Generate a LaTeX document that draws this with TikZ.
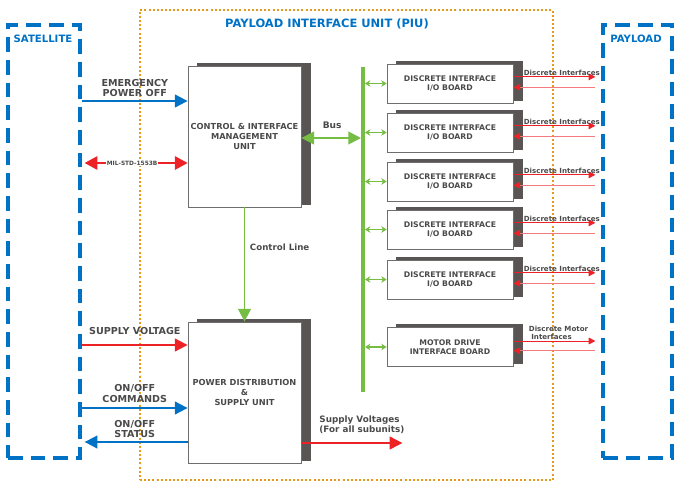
\documentclass[tikz,border=0pt]{standalone}
\usepackage{fontspec}
\setmainfont{DejaVu Sans}
\usetikzlibrary{arrows.meta}
\usetikzlibrary{shadows}

\definecolor{satblue}{HTML}{0072C6}
\definecolor{sigred}{HTML}{EC2227}
\definecolor{busgreen}{HTML}{76BD43}
\definecolor{piuorange}{HTML}{E39A1E}
\definecolor{shadegray}{HTML}{5A5555}
\definecolor{inkgray}{HTML}{4A4A4A}

\begin{document}
\begin{tikzpicture}[x=0.75pt, y=-0.75pt,
	every node/.style={text=inkgray},
	frame/.style={draw=satblue, line width=3pt, dash pattern=on 11pt off 6pt, inner sep=0pt, minimum height=324.75pt},
	head/.style={text=satblue, font=\fontsize{7.6}{9}\selectfont\bfseries, inner sep=0pt},
	unit/.style={draw=inkgray!80, line width=0.6pt, fill=white, inner sep=0pt, align=center,
		font=\fontsize{6.2}{7.2}\selectfont\bfseries,
		copy shadow={shadow xshift=6.75pt, shadow yshift=2.25pt, fill=shadegray, draw=shadegray}},
	mainunit/.style={unit, minimum width=84.75pt, minimum height=105.75pt},
	board/.style={unit, minimum width=94.5pt, minimum height=29.25pt, font=\fontsize{5.8}{7}\selectfont\bfseries},
	lbl/.style={font=\fontsize{7.2}{7.8}\selectfont\bfseries, align=center, inner sep=0.5pt},
	small/.style={font=\fontsize{5.3}{6}\selectfont\bfseries, inner sep=0.3pt},
	pwr/.style={draw=satblue, line width=1.4pt, -{Triangle[length=9.5pt,width=9.5pt]}},
	pwrback/.style={draw=satblue, line width=1.4pt, {Triangle[length=9.5pt,width=9.5pt]}-},
	supply/.style={draw=sigred, line width=1.4pt, -{Triangle[length=9.5pt,width=9.5pt]}},
	milbus/.style={draw=sigred, line width=1.4pt, {Triangle[length=9.5pt,width=10pt]}-{Triangle[length=9.5pt,width=10pt]}},
	ctrl/.style={draw=busgreen, line width=1.2pt, -{Triangle[length=9.5pt,width=9.5pt]}},
	buslink/.style={draw=busgreen, line width=1.4pt, {Triangle[length=9.5pt,width=9.5pt]}-{Triangle[length=9.5pt,width=9.5pt]}},
	boardlink/.style={draw=busgreen, line width=0.8pt, {Stealth[length=4pt,width=5pt]}-{Stealth[length=4pt,width=5pt]}},
	sigout/.style={draw=sigred, line width=0.7pt, -{Triangle[length=5pt,width=5pt]}},
	sigin/.style={draw=sigred!60, line width=0.9pt, {Triangle[length=5pt,width=5pt,color=sigred]}-}]

	\useasboundingbox (0,0) rectangle (674,482);

	% outer blocks
	\node[draw=piuorange, line width=2pt, dash pattern=on 1.5pt off 1.6pt, inner sep=0pt,
		minimum width=309.75pt, minimum height=352.5pt] (piubox) at (346.5,245) {};
	\node[frame, minimum width=54pt] (satbox) at (44,241.5) {};
	\node[frame, minimum width=51.75pt] (paybox) at (637.5,241.5) {};

	\node[head] (satlbl) at (43,39) {SATELLITE};
	\node[head] (paylbl) at (636,39) {PAYLOAD};
	\node[head, font=\fontsize{8.6}{10}\selectfont\bfseries] (piulbl) at (327,24) {PAYLOAD INTERFACE UNIT (PIU)};

	% units
	\node[mainunit] (cimu) at (244.5,136.5) {CONTROL \& INTERFACE\\MANAGEMENT\\UNIT};
	\node[mainunit] (pdsu) at (244.5,392.5) {POWER DISTRIBUTION\\\&\\SUPPLY UNIT};

	\foreach \i/\y in {1/83.5, 2/132.5, 3/181.5, 4/229.5, 5/279.5}{
		\node[board] (b\i) at (450,\y) {DISCRETE INTERFACE\\I/O BOARD};
	}
	\node[board] (mdib) at (450,347) {MOTOR DRIVE\\INTERFACE BOARD};

	% bus
	\coordinate (bustop) at (363,67);
	\coordinate (busbot) at (363,392);
	\draw[busgreen, line width=3pt] (bustop) -- (busbot);

	\foreach \n in {b1,b2,b3,b4,b5,mdib}{
		\draw[boardlink, shorten <=1.5pt] (\n.west -| bustop) -- (\n.west);
		\draw[sigin] ([yshift=-2.8pt]\n.east) -- ++(82,0);
	}
	\foreach \n in {b1,b2,b3,b4,b5}{
		\draw[sigout] ([yshift=5pt]\n.east) -- ++(82,0)
			node[small, pos=0.59, above=0.5pt]{Discrete Interfaces};
	}
	\draw[sigout] ([yshift=4.5pt]mdib.east) -- ++(82,0)
		node[small, pos=0.55, above=0.5pt, align=left]{Discrete Motor\\\ Interfaces};

	% satellite side
	\coordinate (emg) at (0,101);
	\coordinate (mil) at (0,163);
	\coordinate (sup) at (0,345);
	\coordinate (cmd) at (0,408);
	\coordinate (sts) at (0,442);

	\draw[pwr] (satbox.east |- emg) -- (cimu.west |- emg)
		node[lbl, midway, above=2pt]{EMERGENCY\\POWER OFF};
	\draw[milbus, shorten <=2pt] (satbox.east |- mil) -- (cimu.west |- mil)
		node[small, midway, xshift=-2pt, fill=white, font=\fontsize{4.4}{5}\selectfont\bfseries]{MIL-STD-1553B};
	\draw[supply] (satbox.east |- sup) -- (pdsu.west |- sup)
		node[lbl, midway, above=6.5pt]{SUPPLY VOLTAGE};
	\draw[pwr] (satbox.east |- cmd) -- (pdsu.west |- cmd)
		node[lbl, midway, above=3pt]{ON/OFF\\COMMANDS};
	\draw[pwrback, shorten <=2pt] (satbox.east |- sts) -- (pdsu.west |- sts)
		node[lbl, midway, above=2pt]{ON/OFF\\STATUS};

	% inner links
	\coordinate (busrow) at (0,138);
	\draw[buslink, shorten >=1.5pt] (cimu.east |- busrow) -- (bustop |- busrow)
		node[lbl, midway, above=6pt, font=\fontsize{6.8}{8}\selectfont\bfseries]{Bus};
	\draw[ctrl] (cimu.south) -- (pdsu.north)
		node[lbl, pos=0.35, right=3pt, font=\fontsize{6.5}{8}\selectfont\bfseries]{Control Line};

	\coordinate (outrow) at (0,443);
	\draw[supply] (pdsu.east |- outrow) -- ++(101,0)
		node[at start, anchor=south west, xshift=9.5pt, yshift=3pt, align=left,
			font=\fontsize{6.6}{7.6}\selectfont\bfseries]{Supply Voltages\\(For all subunits)};

\end{tikzpicture}
\end{document}
